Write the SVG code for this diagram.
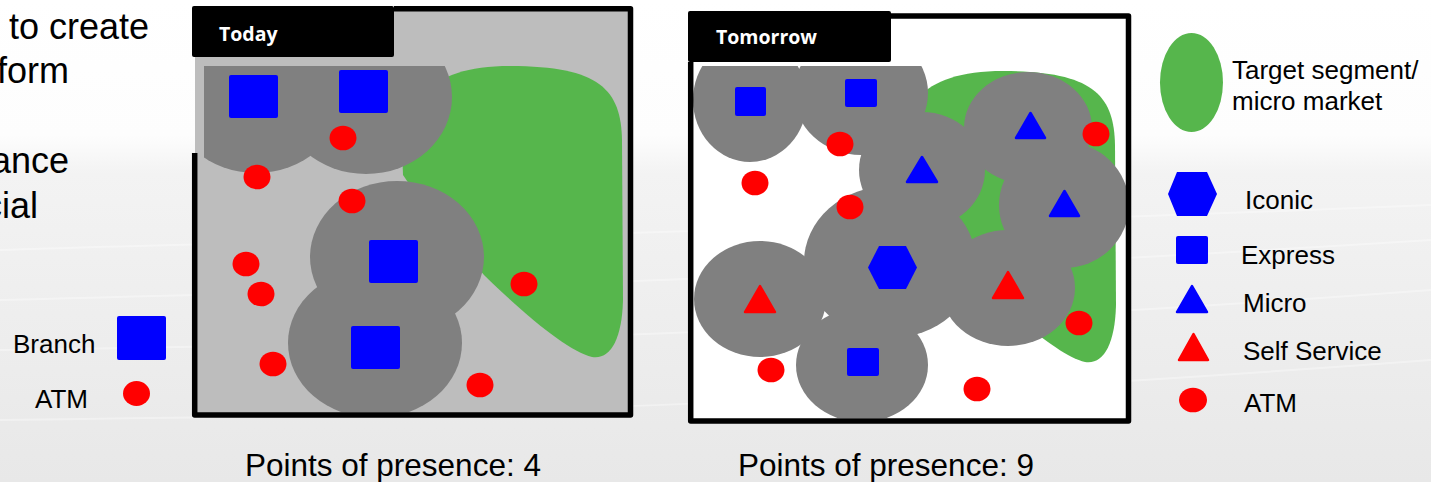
<svg xmlns="http://www.w3.org/2000/svg" width="1431" height="482" viewBox="0 0 1431 482">
  <defs>
    <linearGradient id="bg" x1="0" y1="0" x2="0" y2="1">
      <stop offset="0" stop-color="#ffffff"/>
      <stop offset="0.28" stop-color="#fdfdfd"/>
      <stop offset="0.36" stop-color="#f3f3f3"/>
      <stop offset="1" stop-color="#e8e8e8"/>
    </linearGradient>
    <clipPath id="clipToday">
      <rect x="204" y="66" width="424" height="346"/>
    </clipPath>
    <clipPath id="clipTomorrow">
      <rect x="693" y="66" width="433" height="352"/>
    </clipPath>
    <path id="greenShape" d="M 403 175 C 400 110, 420 66, 510 66 C 600 66, 621 90, 622 140 L 623 300 C 622 340, 610 360, 592 357 C 570 352, 530 320, 484 275 L 420 200 Z"/>
  </defs>
  <style>
    .txt { font-family: "Liberation Sans", Arial, sans-serif; fill: #000000; }
    .side { font-size: 36px; text-anchor: end; }
    .leg { font-size: 26px; }
    .pop { font-size: 31.5px; }
    .tab { fill: #000000; }
    .tabtxt { font-family: "Open Sans", "DejaVu Sans", sans-serif; font-weight: 700; font-size: 19.5px; fill: #ffffff; }
    .border { fill: none; stroke: #000000; stroke-width: 5.5; stroke-linejoin: round; }
    .zone { fill: #808080; }
    .green { fill: #56b64c; }
    .blue { fill: #0000ff; }
    .red { fill: #ff0000; }
    .tri { stroke-width: 2.5; stroke-linejoin: round; }
    .tri.blue { stroke: #0000ff; }
    .tri.red { stroke: #ff0000; }
    .wave { fill: none; stroke: #ffffff; stroke-width: 2; opacity: 0.35; }
  </style>

  <rect id="background" x="0" y="0" width="1431" height="482" fill="url(#bg)"/>
  <g id="waves">
    <path class="wave" d="M 0 250 C 300 240, 700 235, 1431 205"/>
    <path class="wave" d="M 0 300 C 400 290, 800 280, 1431 240"/>
    <path class="wave" d="M 0 350 C 400 345, 900 330, 1431 290"/>
    <path class="wave" d="M 0 420 C 500 415, 900 400, 1431 360"/>
  </g>

  <g id="side-text">
    <text class="txt side" x="149" y="39">to create</text>
    <text class="txt side" x="69" y="83">form</text>
    <text class="txt side" x="69" y="173">ance</text>
    <text class="txt side" x="38" y="218">cial</text>
  </g>

  <g id="legend-left">
    <g id="legend-branch">
      <text class="txt leg" x="13" y="353">Branch</text>
      <rect class="blue" x="117" y="316" width="49" height="44" rx="2"/>
    </g>
    <g id="legend-atm-left">
      <text class="txt leg" x="35" y="408">ATM</text>
      <ellipse class="red" cx="136.5" cy="393.5" rx="13.5" ry="12.5"/>
    </g>
  </g>

  <g id="panel-today">
    <rect x="195" y="9" width="435" height="406" fill="#bdbdbd"/>
    <g clip-path="url(#clipToday)">
      <use href="#greenShape" class="green"/>
      <ellipse class="zone" cx="256" cy="97" rx="86" ry="76"/>
      <ellipse class="zone" cx="366" cy="97" rx="86" ry="77"/>
      <ellipse class="zone" cx="397" cy="257" rx="87" ry="76"/>
      <ellipse class="zone" cx="375" cy="343" rx="87" ry="75"/>
    </g>
    <g id="today-branches">
      <rect class="blue" x="229" y="75" width="49" height="43" rx="2"/>
      <rect class="blue" x="339" y="70" width="49" height="43" rx="2"/>
      <rect class="blue" x="369" y="240" width="49" height="43" rx="2"/>
      <rect class="blue" x="351" y="326" width="49" height="43" rx="2"/>
    </g>
    <g id="today-atms">
      <ellipse class="red" cx="343" cy="138" rx="13.5" ry="12.3"/>
      <ellipse class="red" cx="257" cy="177" rx="13.5" ry="12.3"/>
      <ellipse class="red" cx="352" cy="201" rx="13.5" ry="12.3"/>
      <ellipse class="red" cx="246" cy="264" rx="13.5" ry="12.3"/>
      <ellipse class="red" cx="261" cy="294" rx="13.5" ry="12.3"/>
      <ellipse class="red" cx="524" cy="284" rx="13.5" ry="12.3"/>
      <ellipse class="red" cx="273" cy="364" rx="13.5" ry="12.3"/>
      <ellipse class="red" cx="480" cy="385" rx="13.5" ry="12.3"/>
    </g>
    <path class="border" d="M 194.7 153 L 194.7 415 L 630.5 415 L 630.5 8.7 L 394 8.7"/>
    <rect class="tab" x="192" y="6" width="202" height="51" rx="2"/>
    <text class="tabtxt" x="219" y="41">Today</text>
  </g>

  <g id="panel-tomorrow">
    <rect x="691" y="16" width="437" height="405" fill="#ffffff"/>
    <g clip-path="url(#clipTomorrow)">
      <use href="#greenShape" class="green" transform="translate(493 5)"/>
      <ellipse class="zone" cx="750" cy="100" rx="57" ry="62"/>
      <ellipse class="zone" cx="861" cy="93" rx="67" ry="62"/>
      <ellipse class="zone" cx="922" cy="170" rx="63" ry="58"/>
      <ellipse class="zone" cx="1028" cy="128" rx="64" ry="56"/>
      <ellipse class="zone" cx="1064" cy="205" rx="65" ry="63"/>
      <ellipse class="zone" cx="890" cy="262" rx="86" ry="76"/>
      <ellipse class="zone" cx="760" cy="299" rx="66" ry="58"/>
      <ellipse class="zone" cx="1008" cy="288" rx="67" ry="58"/>
      <ellipse class="zone" cx="862" cy="365" rx="66" ry="57"/>
    </g>
    <g id="tomorrow-points">
      <rect class="blue" x="735" y="87" width="31" height="29" rx="2"/>
      <rect class="blue" x="845" y="79" width="32" height="28" rx="2"/>
      <rect class="blue" x="847" y="348" width="32" height="28" rx="2"/>
      <polygon class="blue tri" points="922,157 937,182 907,182"/>
      <polygon class="blue tri" points="1030.5,113 1045,138 1016,138"/>
      <polygon class="blue tri" points="1064.5,191 1079,216 1050,216"/>
      <polygon class="blue" points="868,267.5 879,246 906,246 917,267.5 906,289 879,289"/>
      <polygon class="red tri" points="760,286 775,312 745,312"/>
      <polygon class="red tri" points="1008,272 1023,298 993,298"/>
    </g>
    <g id="tomorrow-atms">
      <ellipse class="red" cx="840" cy="144" rx="13.5" ry="12.3"/>
      <ellipse class="red" cx="755" cy="183" rx="13.5" ry="12.3"/>
      <ellipse class="red" cx="850" cy="207" rx="13.5" ry="12.3"/>
      <ellipse class="red" cx="1096" cy="134" rx="13.5" ry="12.3"/>
      <ellipse class="red" cx="1079" cy="323" rx="13.5" ry="12.3"/>
      <ellipse class="red" cx="771" cy="370" rx="13.5" ry="12.3"/>
      <ellipse class="red" cx="977" cy="389" rx="13.5" ry="12.3"/>
    </g>
    <path class="border" d="M 690.7 62 L 690.7 421 L 1128.5 421 L 1128.5 16 L 891 16"/>
    <rect class="tab" x="688" y="11" width="203" height="51" rx="2"/>
    <text class="tabtxt" x="716" y="44">Tomorrow</text>
  </g>

  <g id="legend-right">
    <g id="legend-target">
      <ellipse class="green" cx="1191.5" cy="82.5" rx="31.5" ry="49.5"/>
      <text class="txt leg" x="1232" y="79">Target segment/</text>
      <text class="txt leg" x="1232" y="110">micro market</text>
    </g>
    <g id="legend-iconic">
      <polygon class="blue" points="1168,194 1177,172 1207,172 1217,194 1207,216 1177,216"/>
      <text class="txt leg" x="1245" y="209">Iconic</text>
    </g>
    <g id="legend-express">
      <rect class="blue" x="1176" y="236" width="32" height="28" rx="2"/>
      <text class="txt leg" x="1241" y="264">Express</text>
    </g>
    <g id="legend-micro">
      <polygon class="blue tri" points="1192,286 1207,312 1177,312"/>
      <text class="txt leg" x="1243" y="312">Micro</text>
    </g>
    <g id="legend-self">
      <polygon class="red tri" points="1193.5,334 1208,360 1179,360"/>
      <text class="txt leg" x="1243" y="360">Self Service</text>
    </g>
    <g id="legend-atm">
      <ellipse class="red" cx="1193" cy="400" rx="14" ry="12.3"/>
      <text class="txt leg" x="1244" y="412">ATM</text>
    </g>
  </g>

  <g id="captions">
    <text class="txt pop" x="245" y="476">Points of presence: 4</text>
    <text class="txt pop" x="738" y="476">Points of presence: 9</text>
  </g>
  <g id="connectors"/>
</svg>
